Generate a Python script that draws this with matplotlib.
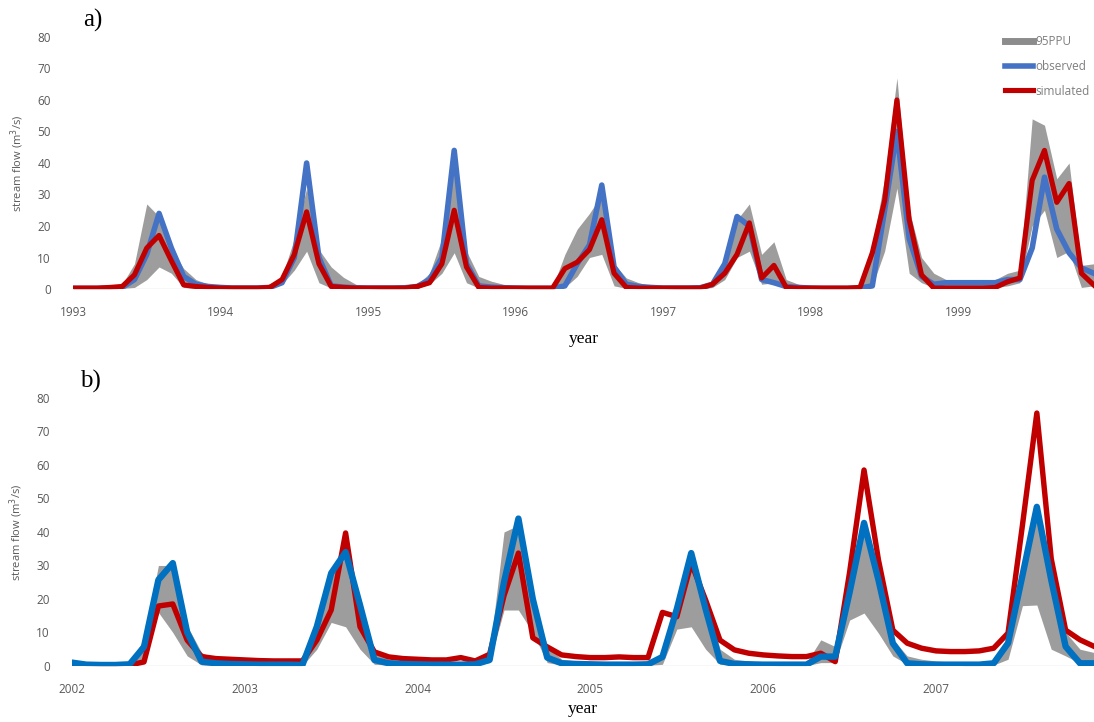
import matplotlib
matplotlib.use("Agg")
import matplotlib.pyplot as plt
import numpy as np

# ── Panel a: calibration 1993-1999 (monthly) ──────────────────────────────
years_a = ["1993", "1994", "1995", "1996", "1997", "1998", "1999"]
obs_a = [
    0.2, 0.2, 0.2, 0.3, 0.5, 3, 11, 24, 13, 4, 1.5, 0.8,
    0.5, 0.3, 0.3, 0.3, 0.5, 2, 10, 40, 10, 1.0, 0.6, 0.4,
    0.3, 0.3, 0.3, 0.4, 0.8, 3, 10, 44, 8, 1.0, 0.6, 0.4,
    0.3, 0.2, 0.2, 0.2, 1, 8, 14, 33, 7, 1.5, 0.8, 0.5,
    0.3, 0.3, 0.3, 0.4, 1.5, 8, 23, 20, 3, 2, 0.8, 0.5,
    0.3, 0.2, 0.2, 0.2, 0.3, 1, 25, 50, 16, 4, 1.5, 2,
    2, 2, 2, 2, 3, 3, 13, 35.5, 19, 11.5, 6.7, 5,
]
sim_a = [
    0.3, 0.3, 0.3, 0.5, 0.8, 4.5, 13, 17, 9, 1.3, 0.8, 0.5,
    0.3, 0.3, 0.3, 0.3, 0.5, 3, 11, 24.5, 8, 0.8, 0.5, 0.3,
    0.3, 0.3, 0.3, 0.3, 0.8, 2, 8, 25, 7, 0.5, 0.3, 0.3,
    0.3, 0.3, 0.3, 0.3, 6.5, 8.5, 12.5, 22, 5, 0.5, 0.3, 0.3,
    0.3, 0.3, 0.3, 0.3, 1.5, 5, 11, 21, 3.5, 7.5, 0.5, 0.3,
    0.3, 0.3, 0.3, 0.3, 0.5, 11.5, 28, 60, 22, 4.5, 0.3, 0.3,
    0.3, 0.3, 0.3, 0.5, 2.3, 3.5, 34.5, 44, 27.5, 33.5, 5, 1.3,
]
ppu_hi_a = [
    0.5, 0.5, 0.5, 0.8, 1.5, 8, 27, 23, 13, 6.5, 3, 1.5,
    0.8, 0.5, 0.5, 0.5, 1, 4, 16, 32, 12.5, 7, 3.7, 1.5,
    0.8, 0.5, 0.5, 0.5, 1.5, 5, 16, 38, 12, 4, 2.5, 1.5,
    1, 0.8, 0.5, 0.5, 11, 19, 24, 30, 8, 3.5, 2, 1,
    0.8, 0.5, 0.5, 0.8, 2.5, 10, 22, 27, 11, 15, 3, 1.5,
    1, 0.8, 0.5, 0.5, 1, 14, 35, 67, 25, 10, 5, 3,
    3, 3, 3, 3, 5, 6, 54, 52, 35, 40, 7.5, 8,
]
ppu_lo_a = [
    0, 0, 0, 0, 0.2, 0.5, 3, 7, 5, 0.5, 0.2, 0.1,
    0.1, 0, 0, 0, 0.2, 1.5, 6, 12, 2, 0.3, 0.1, 0.1,
    0.1, 0, 0, 0, 0.3, 1.5, 5, 11.5, 2, 0.3, 0.1, 0.1,
    0.1, 0, 0, 0, 0.5, 4, 10, 11, 1, 0.2, 0.1, 0.1,
    0.1, 0, 0, 0, 0.5, 3, 10, 12, 1.5, 2, 0.2, 0.1,
    0.1, 0, 0, 0, 0.1, 1, 12, 32, 5, 2, 0.5, 0.3,
    0.5, 0.5, 0.5, 0.5, 1, 2, 20, 25, 10, 12, 0.5, 1,
]

# ── Panel b: validation 2002-2007 (monthly) ───────────────────────────────
years_b = ["2002", "2003", "2004", "2005", "2006", "2007"]
obs_b = [
    1, 0.4, 0.3, 0.3, 0.5, 5.7, 25.7, 30.7, 10, 1.3, 0.8, 0.6,
    0.5, 0.4, 0.4, 0.4, 0.3, 11.7, 27.7, 34, 18.2, 1.8, 0.8, 0.6,
    0.5, 0.4, 0.4, 0.4, 0.5, 1.8, 25, 44, 20, 2.5, 0.8, 0.6,
    0.5, 0.4, 0.4, 0.4, 0.5, 2.7, 17, 33.7, 17, 1.5, 0.6, 0.5,
    0.4, 0.4, 0.4, 0.4, 2.8, 2.8, 22, 42.7, 25.7, 6.8, 0.8, 0.5,
    0.4, 0.4, 0.4, 0.4, 0.8, 6.8, 27, 47.5, 25.7, 5.8, 0.8, 0.8,
]
sim_b = [
    0.3, 0.3, 0.3, 0.3, 0.3, 1.2, 17.9, 18.5, 7.7, 2.8, 2.2, 2,
    1.8, 1.6, 1.5, 1.5, 1.5, 7.7, 16.7, 39.7, 11.7, 4.2, 2.7, 2.2,
    2, 1.8, 1.8, 2.5, 1.5, 3.5, 21, 33.7, 8.4, 5.7, 3.3, 2.8,
    2.5, 2.5, 2.7, 2.5, 2.5, 16, 14.7, 30.7, 19.7, 7.7, 4.8, 3.8,
    3.3, 3, 2.8, 2.8, 3.8, 1.3, 28, 58.5, 31.7, 10.7, 6.8, 5.3,
    4.5, 4.3, 4.3, 4.5, 5.3, 9.8, 42, 75.5, 32, 10.7, 7.8, 5.8,
]
ppu_hi_b = [
    1.5, 0.8, 0.5, 0.5, 1, 8, 30, 30, 12, 4, 2, 1.5,
    1, 0.8, 0.8, 0.8, 0.8, 14, 28.7, 34, 20, 4, 2, 1.5,
    1, 0.8, 0.8, 0.8, 1, 4, 40, 42, 20, 6, 2, 1.5,
    1, 0.8, 0.8, 0.8, 1, 3, 20, 33, 20, 5, 2, 1.5,
    1, 0.8, 0.8, 1, 7.8, 5.8, 28, 42, 26, 8, 3, 2,
    1.5, 1.2, 1, 1, 1.5, 8, 30, 45, 25, 10, 5, 4,
]
ppu_lo_b = [
    0.3, 0.1, 0, 0, 0.2, 1, 16, 10, 3, 0.3, 0.2, 0.2,
    0.2, 0.1, 0.1, 0.1, 0.1, 5, 13, 11.7, 5, 0.5, 0.3, 0.2,
    0.2, 0.1, 0.1, 0.1, 0.2, 1, 16.7, 16.7, 10, 1, 0.3, 0.2,
    0.2, 0.1, 0.1, 0.1, 0.2, 0.5, 11, 11.7, 5, 0.5, 0.3, 0.2,
    0.2, 0.1, 0.1, 0.1, 1, 1, 13.7, 15.8, 9.8, 3, 0.5, 0.3,
    0.3, 0.2, 0.1, 0.1, 0.3, 2, 18, 18.2, 5, 3, 0.8, 0.5,
]

GREY = "#8c8c8c"
RED = "#c00000"
TICK = "#595959"
SANS = "Open Sans"
SERIF = "Liberation Serif"


def style_axis(ax, n, years):
    ax.set_xlim(0, n - 1)
    ax.set_ylim(0, 80)
    ax.set_yticks(range(0, 81, 10))
    ax.set_xticks(np.arange(len(years)) * 12)
    ax.set_xticklabels(years)
    for s in ax.spines.values():
        s.set_visible(False)
    ax.axhline(0, color="#d9d9d9", lw=1, zorder=1)
    ax.tick_params(length=0, colors=TICK, labelsize=8.5)
    ax.tick_params(axis="y", pad=16)
    ax.tick_params(axis="x", pad=12)
    for lab in ax.get_xticklabels() + ax.get_yticklabels():
        lab.set_fontfamily(SANS)
    ax.set_ylabel("stream flow (m$^3$/s)", fontsize=8, color=TICK,
                  fontfamily=SANS, labelpad=8)
    ax.set_xlabel("year", fontsize=12.5, fontfamily=SERIF, labelpad=9)


fig = plt.figure(figsize=(10.94, 7.22), dpi=100)

# panel a
ax = fig.add_axes([0.0667, 0.5997, 0.9330, 0.3491])
xa = np.arange(len(obs_a))
ax.fill_between(xa, ppu_lo_a, ppu_hi_a, color=GREY, alpha=0.85, lw=0,
                label="95PPU", zorder=2)
ax.plot(xa, obs_a, color="#4472c4", lw=4.0, label="observed", zorder=3)
ax.plot(xa, sim_a, color=RED, lw=3.7, label="simulated", zorder=4)
style_axis(ax, len(obs_a), years_a)
h, l = ax.get_legend_handles_labels()
leg = ax.legend([plt.Line2D([], [], color=GREY, lw=5), h[1], h[2]], l,
                loc="upper right", bbox_to_anchor=(1.006, 1.05), frameon=False,
                handlelength=2.3, handletextpad=0.2,
                labelspacing=1.0, prop={"family": SANS, "size": 8.5})
for t in leg.get_texts():
    t.set_color("#7f7f7f")
fig.text(0.076, 0.972, "a)", fontsize=18, fontfamily=SERIF, va="center")

# panel b
ax = fig.add_axes([0.0658, 0.0776, 0.9346, 0.3712])
xb = np.arange(len(obs_b))
ax.fill_between(xb, ppu_lo_b, ppu_hi_b, color=GREY, alpha=0.85, lw=0, zorder=2)
ax.plot(xb, sim_b, color=RED, lw=3.9, zorder=3)
ax.plot(xb, obs_b, color="#0070c0", lw=4.6, zorder=4)
style_axis(ax, len(obs_b), years_b)
ax.xaxis.labelpad = 4
fig.text(0.073, 0.472, "b)", fontsize=18, fontfamily=SERIF, va="center")

fig.savefig("out.png", dpi=100)
